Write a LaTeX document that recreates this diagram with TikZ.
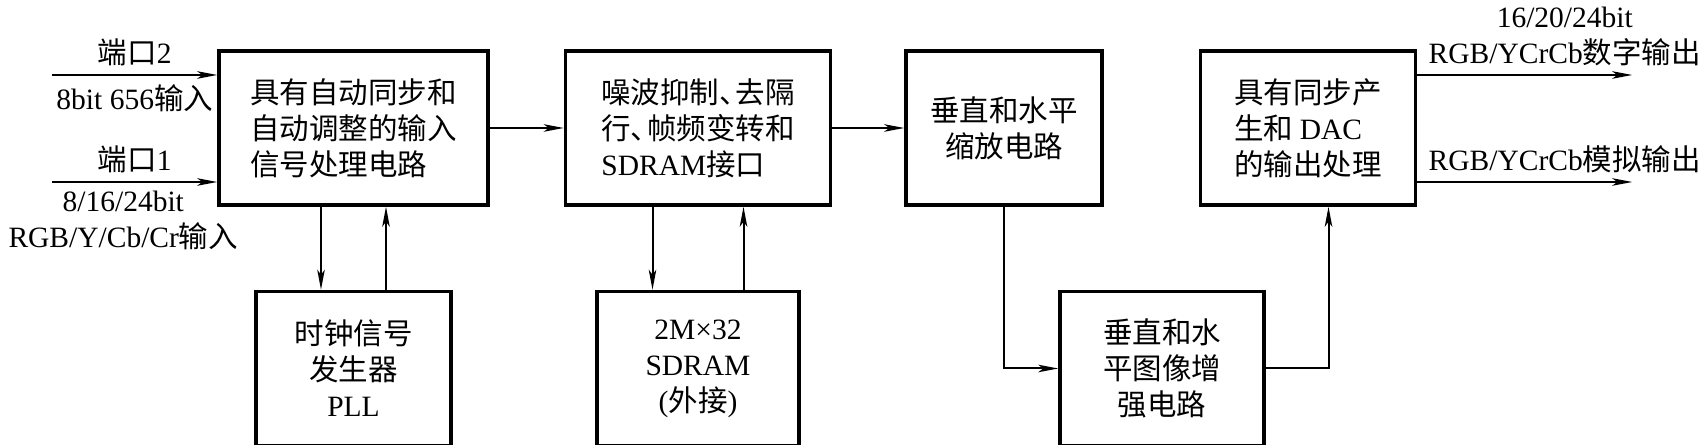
\documentclass[tikz,border=0pt]{standalone}
\usepackage{fontspec}
\setmainfont{Liberation Serif}
\newfontfamily\cjk{Noto Sans CJK SC}
\newcommand{\en}[1]{{\rmfamily #1}}
\newcommand{\dun}{、\kern-0.45em}
\usetikzlibrary{positioning,arrows.meta}

\begin{document}
\begin{tikzpicture}[
    >={Stealth[length=8pt,width=3pt,inset=2pt]},
    font=\fontsize{11.8}{14.4}\selectfont\cjk,
    blk/.style={draw,line width=1.4pt,inner sep=0pt,align=center,minimum height=61.6pt},
    flow/.style={->,line width=0.8pt},
    ]
    \useasboundingbox (0,0) rectangle (680pt,-178pt);
    % top row
    \node[blk,minimum width=107.6pt,align=left] (in) at (141.4pt,-51.2pt) {具有自动同步和\\自动调整的输入\\信号处理电路};
    \node[blk,minimum width=106pt,align=left,right=29.6pt of in] (deint) {噪波抑制\dun 去隔\\行\dun 帧频变转和\\\en{SDRAM}接口};
    \node[blk,minimum width=78.4pt,right=28.8pt of deint] (scale) {垂直和水平\\缩放电路};
    \node[blk,minimum width=86pt,align=left,right=38pt of scale] (out) {具有同步产\\生和 \en{DAC}\\的输出处理};
    % bottom row
    \node[blk,minimum width=78pt,below=33.2pt of in] (pll) {时钟信号\\发生器\\\en{PLL}};
    \node[blk,minimum width=80.8pt,below=33.2pt of deint] (sdram) {\en{2M×32}\\\en{SDRAM}\\\en{(}外接\en{)}};
    \node[blk,minimum width=81.6pt,below=33.2pt of scale,xshift=63.2pt] (enh) {垂直和水\\平图像增\\强电路};
    % inputs and outputs
    \coordinate[above left=21.2pt and 66pt of in.west] (p2);
    \coordinate[below left=21.6pt and 66pt of in.west] (p1);
    \coordinate[above right=21.2pt and 86pt of out.east] (o2);
    \coordinate[below right=21.6pt and 86pt of out.east] (o1);
    \draw[flow] (p2) -- node[above]{端口\en{2}} node[below]{\en{8bit 656}输入} (p2 -| in.west);
    \draw[flow] (p1) -- node[above]{端口\en{1}} node[below,xshift=-4.6pt,align=center]{\en{8/16/24bit}\\\en{RGB/Y/Cb/Cr}输入} (p1 -| in.west);
    \draw[flow] (o2 -| out.east) -- (o2) node[above,xshift=-27pt,align=center]{\en{16/20/24bit}\\\en{RGB/YCrCb}数字输出};
    \draw[flow] (o1 -| out.east) -- (o1) node[above,xshift=-27pt]{\en{RGB/YCrCb}模拟输出};
    % data path
    \draw[flow] (in) -- (deint);
    \draw[flow] (deint) -- (scale);
    \draw[flow] (scale) |- (enh);
    \draw[flow] (enh) -| ([xshift=8.2pt]out.south);
    \draw[flow] ([xshift=-13pt]in.south) -- ([xshift=-13pt]pll.north);
    \draw[flow] ([xshift=13pt]pll.north) -- ([xshift=13pt]in.south);
    \draw[flow] ([xshift=-18.2pt]deint.south) -- ([xshift=-18.2pt]sdram.north);
    \draw[flow] ([xshift=18.2pt]sdram.north) -- ([xshift=18.2pt]deint.south);
\end{tikzpicture}
\end{document}
